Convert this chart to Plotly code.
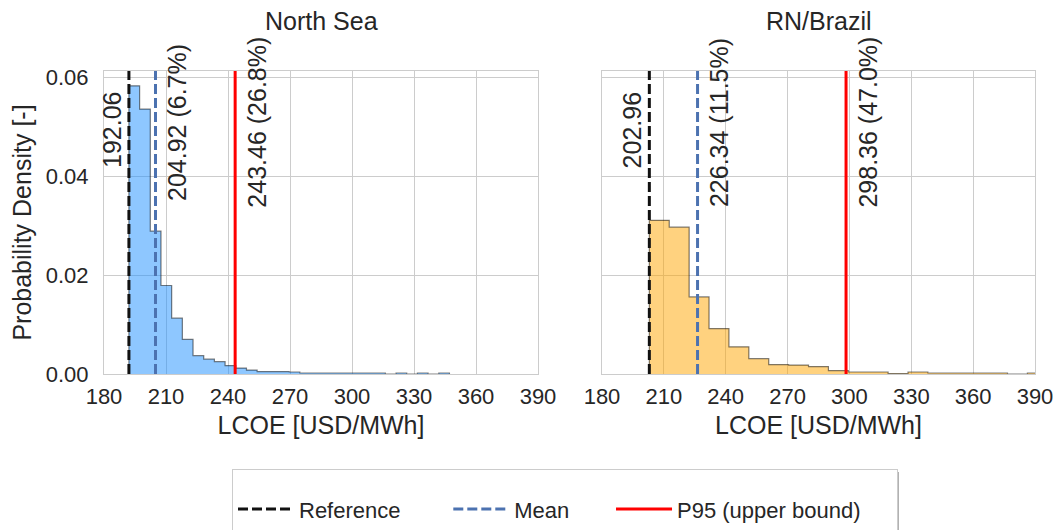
import plotly.graph_objects as go

# ---------------- data ----------------
regions = ["North Sea", "RN/Brazil"]

ns_bin_start = 192.06
ns_bin_width = 5.17
ns_density = [0.0583, 0.0536, 0.0289, 0.0179, 0.0113, 0.0070, 0.0037, 0.0030,
              0.0025, 0.0017, 0.0012, 0.0008, 0.0005, 0.0005, 0.0005, 0.0004,
              0.0002, 0.0002, 0.0002, 0.0002, 0.0002, 0.0002, 0.0002, 0.0002,
              0.0, 0.0002, 0.0, 0.0002, 0.0, 0.0002]

br_bin_start = 202.96
br_bin_width = 9.65
br_density = [0.0311, 0.0297, 0.0156, 0.0092, 0.0055, 0.0031, 0.0019, 0.0018,
              0.0015, 0.0007, 0.0004, 0.0004, 0.0001, 0.0004, 0.0002, 0.0002,
              0.0002, 0.0002, 0.0, 0.0002]

reference = [192.06, 202.96]
mean = [204.92, 226.34]
mean_pct = [6.7, 11.5]
p95 = [243.46, 298.36]
p95_pct = [26.8, 47.0]

x_ticks = [180, 210, 240, 270, 300, 330, 360, 390]
y_ticks = [0.00, 0.02, 0.04, 0.06]
x_label = "LCOE [USD/MWh]"
y_label = "Probability Density [-]"
legend_names = ["Reference", "Mean", "P95 (upper bound)"]
legend_pad = [7, 6, 5]   # trailing spaces to spread the legend entries

# ---------------- style ----------------
FONT = "Liberation Sans, Arial, sans-serif"
TXT = "#262626"
GRID = "#cccccc"
fills = ["rgba(30,144,255,0.5)", "rgba(255,165,0,0.5)"]
edge = "rgba(0,0,0,0.5)"
line_cols = ["#111111", "#4c72b0", "#ff0000"]
line_dash = ["10px,4px", "10px,4px", "solid"]
YMAX = 0.0613
BIG = 25

# figure geometry (pixels)
W, H = 1057, 530
ML, MR, MT, MB = 104, 22, 71, 156
PW, PH = W - ML - MR, H - MT - MB


def px_x(p):
    return (p - ML) / PW


def px_y(p):
    return (H - MB - p) / PH


fig = go.Figure()

hists = [(ns_bin_start, ns_bin_width, ns_density),
         (br_bin_start, br_bin_width, br_density)]

for i, (start, width, dens) in enumerate(hists):
    xa = "x" if i == 0 else "x2"
    ya = "y" if i == 0 else "y2"
    edges = [start + k * width for k in range(len(dens) + 1)]
    xs = [edges[0]] + edges[:-1] + [edges[-1]]
    ys = [0] + list(dens) + [0]
    fig.add_trace(go.Scatter(
        x=xs, y=ys, mode="lines", line=dict(shape="hv", color=edge, width=1.2),
        fill="tozeroy", fillcolor=fills[i], showlegend=False, hoverinfo="skip",
        xaxis=xa, yaxis=ya))
    for j, val in enumerate([reference[i], mean[i], p95[i]]):
        fig.add_trace(go.Scatter(
            x=[val, val], y=[0, YMAX], mode="lines",
            line=dict(color=line_cols[j], width=3, dash=line_dash[j]),
            name=legend_names[j] + "\u00a0" * legend_pad[j],
            showlegend=(i == 0), xaxis=xa, yaxis=ya))

annotations = []
for i in range(2):
    xr = "x" if i == 0 else "x2"
    dom = "x domain" if i == 0 else "x2 domain"
    annotations.append(dict(text=regions[i], xref=dom, x=0.5, yref="paper", y=1.165,
                            xanchor="center", yanchor="middle", showarrow=False,
                            font=dict(size=BIG, color=TXT, family=FONT)))
    labels = [f"{reference[i]:.2f}",
              f"{mean[i]:.2f} ({mean_pct[i]:.1f}%)",
              f"{p95[i]:.2f} ({p95_pct[i]:.1f}%)"]
    vals = [reference[i], mean[i], p95[i]]
    shifts = [-17, 21, 21]
    ys = [0.805, 0.830, 0.830]
    for lab, v, s, yy in zip(labels, vals, shifts, ys):
        annotations.append(dict(text=lab, xref=xr, x=v, yref="paper", y=yy,
                                xanchor="center", yanchor="middle", textangle=-90,
                                xshift=s, showarrow=False,
                                font=dict(size=BIG, color=TXT, family=FONT)))

# legend box geometry (pixels) and its matplotlib-style shadow
LEG_L, LEG_R, LEG_T = 232, 896, 469
shapes = [dict(type="rect", xref="paper", yref="paper",
               x0=px_x(LEG_L + 3), x1=px_x(LEG_R + 3), y0=px_y(LEG_T + 3), y1=px_y(560),
               fillcolor="rgba(0,0,0,0.3)", line=dict(width=0), layer="above")]

axis_common = dict(range=[180, 390], tickvals=x_ticks, showgrid=True, gridcolor=GRID,
                   gridwidth=1, showline=True, mirror=True, linecolor=GRID, linewidth=1,
                   zeroline=False, ticks="", ticklabelstandoff=3, automargin=False,
                   tickfont=dict(size=22, color=TXT, family=FONT),
                   title=dict(text=x_label, standoff=8,
                              font=dict(size=BIG, color=TXT, family=FONT)))

fig.update_layout(
    width=W, height=H,
    margin=dict(l=ML, r=MR, t=MT, b=MB, pad=0, autoexpand=False),
    paper_bgcolor="white", plot_bgcolor="white",
    font=dict(family=FONT, color=TXT),
    xaxis=dict(domain=[0, px_x(538)], **axis_common),
    xaxis2=dict(domain=[px_x(602), 1], anchor="y2", **axis_common),
    yaxis=dict(range=[0, YMAX], tickvals=y_ticks, tickformat=".2f", showgrid=True,
               gridcolor=GRID, showline=True, mirror=True, linecolor=GRID,
               zeroline=False, ticks="", ticklabelstandoff=10, automargin=False,
               tickfont=dict(size=22, color=TXT, family=FONT),
               title=dict(text=y_label, standoff=7,
                          font=dict(size=BIG, color=TXT, family=FONT))),
    yaxis2=dict(range=[0, YMAX], tickvals=y_ticks, anchor="x2", matches="y",
                showticklabels=False, showgrid=True, gridcolor=GRID, showline=True,
                mirror=True, linecolor=GRID, zeroline=False, ticks="", automargin=False),
    legend=dict(orientation="h", xanchor="left", x=px_x(LEG_L),
                yref="container", yanchor="top", y=1 - LEG_T / H,
                itemwidth=56, entrywidthmode="pixels",
                title=dict(text="\u00a0", side="top", font=dict(size=14)),
                bordercolor=GRID, borderwidth=1, bgcolor="white",
                font=dict(size=22, color=TXT, family=FONT)),
    annotations=annotations,
    shapes=shapes,
    showlegend=True,
)

fig.write_html("out.html", config={"displayModeBar": False},
               post_script="document.body.style.margin='0';")
